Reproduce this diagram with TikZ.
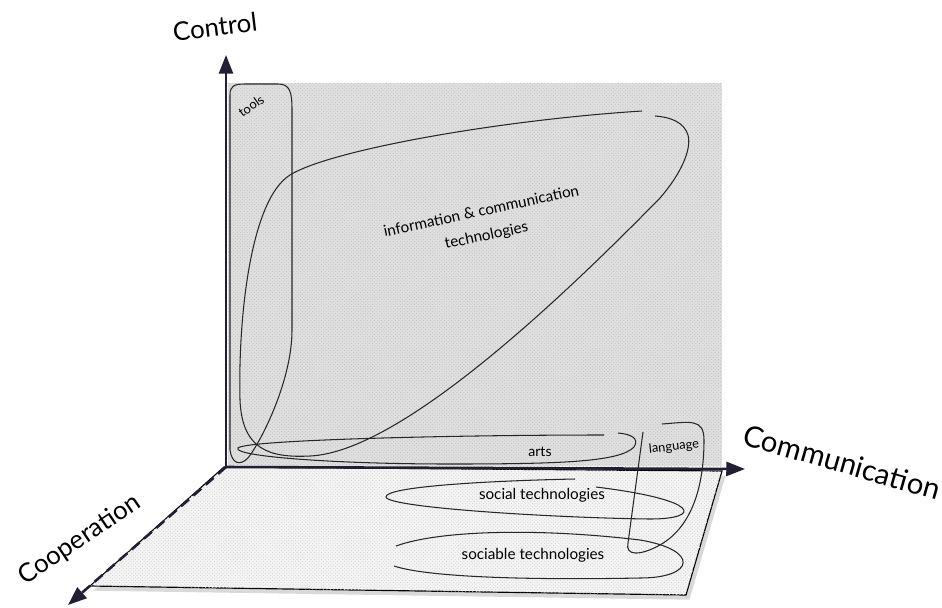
\documentclass[tikz,border=0pt]{standalone}
\usepackage{fontspec}
\setmainfont{Lato}
\usetikzlibrary{positioning,arrows.meta,patterns,shadows}
\definecolor{axisink}{RGB}{35,30,52}
\definecolor{penink}{RGB}{40,40,40}

\begin{document}
\begin{tikzpicture}[x=0.03cm,y=-0.03cm]
    \tikzstyle{axis}=[draw=axisink, line width=2.2pt, -{Triangle[length=16pt,width=12pt]}]
    \tikzstyle{loop}=[draw=penink, line width=0.9pt]
    \tikzstyle{axislabel}=[inner sep=0pt, text=black]
    \tikzstyle{tag}=[inner sep=0pt, text=black, font=\fontsize{13}{21}\selectfont]
    \useasboundingbox (0,0) rectangle (942,607);

    % back wall and floor
    \fill[gray!24] (228,83) rectangle (722,466);
    \fill[pattern=crosshatch dots, pattern color=gray!50] (228,83) rectangle (722,466);
    \filldraw[fill=gray!8, draw=black, line width=1pt, drop shadow={shadow xshift=3pt, shadow yshift=-4pt, opacity=0.3}] (224,467) -- (722,471) -- (686,595) -- (90,586) -- cycle;
    \fill[pattern=crosshatch dots, pattern color=gray!38] (224,467) -- (722,471) -- (686,595) -- (90,586) -- cycle;

    % axes
    \coordinate (O) at (226,467);
    \coordinate (CtrlTip) at (226,55);
    \coordinate (CommTip) at (745,469);
    \coordinate (CoopTip) at (68,605);
    \draw[axis] (O) -- (CtrlTip);
    \draw[axis] (O) -- (CommTip);
    \draw[axis, dash pattern=on 9pt off 5pt] (O) -- (CoopTip);

    \node (Ctrl) [axislabel, font=\fontsize{22}{26}\selectfont, rotate=7] at (215,27) {Control};
    \node (Comm) [axislabel, font=\fontsize{25}{29}\selectfont, rotate=-16] at (842,462) {Communication};
    \node (Coop) [axislabel, font=\fontsize{22}{26}\selectfont, rotate=34] at (80,540) {Cooperation};

    % loops
    \draw[loop] (230,450) -- (230,95) .. controls (230,86) and (234,84) .. (245,84) -- (278,84) .. controls (290,84) and (292,92) .. (292,110) -- (292,330) .. controls (292,380) and (262,440) .. (248,458) .. controls (240,466) and (232,464) .. (230,450);
    \draw[loop] (642,111) .. controls (500,120) and (330,150) .. (290,175) .. controls (250,200) and (238,320) .. (240,400) .. controls (242,450) and (270,458) .. (310,456) .. controls (400,452) and (560,300) .. (660,198) .. controls (680,175) and (692,150) .. (688,135) .. controls (684,122) and (670,117) .. (655,116);
    \draw[loop] (604,435) .. controls (450,435) and (245,440) .. (238,448) .. controls (232,456) and (330,464) .. (450,464) .. controls (560,464) and (620,462) .. (634,447) .. controls (640,438) and (630,434) .. (618,433);
    \draw[loop] (643,432) -- (628,543) .. controls (625,556) and (640,556) .. (660,545) .. controls (695,525) and (704,480) .. (704,440) .. controls (704,418) and (690,422) .. (662,424);
    \draw[loop] (575,479) .. controls (480,481) and (385,487) .. (386,497) .. controls (388,508) and (560,518) .. (650,519) .. controls (702,519) and (702,500) .. (596,487);
    \draw[loop] (396,546) .. controls (440,530) and (540,528) .. (640,540) .. controls (700,550) and (695,578) .. (640,578) .. controls (540,580) and (430,578) .. (394,566);

    \node (Tools) [tag, font=\fontsize{11}{13}\selectfont, rotate=35] at (251,106) {tools};
    \node (ICT) [tag, rotate=12, align=center] at (484,224) {information \& communication\\technologies};
    \node (Arts) [tag, font=\fontsize{12}{14}\selectfont] at (540,452) {arts};
    \node (Lang) [tag, font=\fontsize{11}{13}\selectfont, rotate=6] at (674,447) {language};
    \node (Soc) [tag] at (542,495) {social technologies};
    \node (Sable) [tag] at (533,555) {sociable technologies};
\end{tikzpicture}
\end{document}
